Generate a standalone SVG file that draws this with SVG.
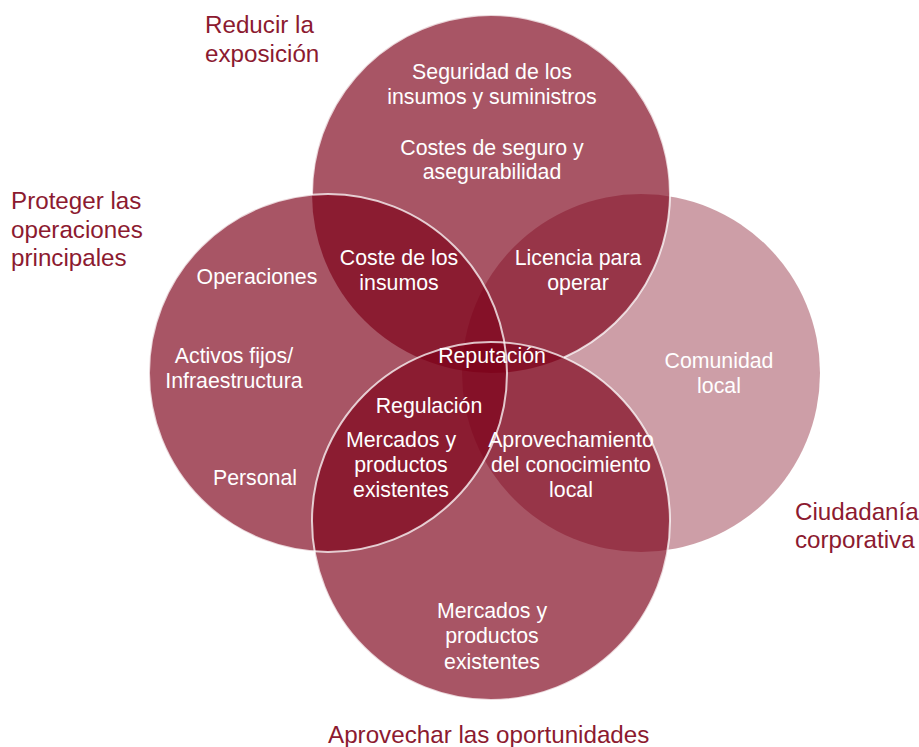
<svg xmlns="http://www.w3.org/2000/svg" width="919" height="747" viewBox="0 0 919 747">
<style>
.c{fill:#7c0018;fill-opacity:0.667;stroke:none}
.cr{fill:#7c0018;fill-opacity:0.38;stroke:none}
.s{fill:none;stroke:#ffffff;stroke-opacity:0.75;stroke-width:2}
.w{font-family:"Liberation Sans",Arial,sans-serif;font-size:21.3px;fill:#ffffff;text-anchor:middle}
.h{font-family:"Liberation Sans",Arial,sans-serif;font-size:24.2px;fill:#8c1a30}
</style>
<rect width="919" height="747" fill="#ffffff"/>
<g id="circle-ciudadania"><circle class="cr" cx="641" cy="373" r="179"/></g>
<g id="circle-reducir"><circle class="c" cx="491" cy="194" r="179"/></g>
<g id="circle-proteger"><circle class="c" cx="328" cy="373" r="179"/></g>
<g id="circle-aprovechar"><circle class="c" cx="491" cy="521" r="179"/></g>
<g id="outlines">
<path class="s" d="M564,357.5 A179,179 0 1 0 312,195"/>
<circle class="s" cx="328" cy="373" r="179"/>
<circle class="s" cx="491" cy="521" r="179"/>
</g>
<g id="connectors"></g>
<g id="labels-reducir">
<text class="h" x="205" y="33">Reducir la</text>
<text class="h" x="205" y="62">exposición</text>
<text class="w" x="492" y="79">Seguridad de los</text>
<text class="w" x="492" y="104">insumos y suministros</text>
<text class="w" x="492" y="155">Costes de seguro y</text>
<text class="w" x="492" y="179">asegurabilidad</text>
</g>
<g id="labels-proteger">
<text class="h" x="11" y="209">Proteger las</text>
<text class="h" x="11" y="238">operaciones</text>
<text class="h" x="11" y="266">principales</text>
<text class="w" x="257" y="284">Operaciones</text>
<text class="w" x="234" y="363">Activos fijos/</text>
<text class="w" x="234" y="388">Infraestructura</text>
<text class="w" x="255" y="485">Personal</text>
</g>
<g id="labels-overlap-top-left">
<text class="w" x="399" y="265">Coste de los</text>
<text class="w" x="399" y="290">insumos</text>
</g>
<g id="labels-overlap-top-right">
<text class="w" x="578" y="265">Licencia para</text>
<text class="w" x="578" y="290">operar</text>
</g>
<g id="labels-center">
<text class="w" x="492" y="363">Reputación</text>
</g>
<g id="labels-overlap-left-bottom">
<text class="w" x="429" y="413">Regulación</text>
<text class="w" x="401" y="447">Mercados y</text>
<text class="w" x="401" y="472">productos</text>
<text class="w" x="401" y="497">existentes</text>
</g>
<g id="labels-overlap-bottom-right">
<text class="w" x="571" y="447">Aprovechamiento</text>
<text class="w" x="571" y="472">del conocimiento</text>
<text class="w" x="571" y="497">local</text>
</g>
<g id="labels-ciudadania">
<text class="w" x="719" y="368">Comunidad</text>
<text class="w" x="719" y="393">local</text>
<text class="h" x="795" y="520">Ciudadanía</text>
<text class="h" x="795" y="548">corporativa</text>
</g>
<g id="labels-aprovechar">
<text class="w" x="492" y="618">Mercados y</text>
<text class="w" x="492" y="643">productos</text>
<text class="w" x="492" y="669">existentes</text>
<text class="h" x="328" y="743">Aprovechar las oportunidades</text>
</g>
</svg>
